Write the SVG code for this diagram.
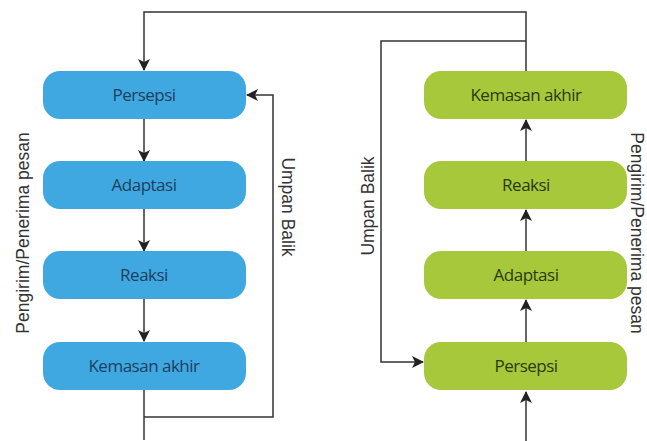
<svg xmlns="http://www.w3.org/2000/svg" width="647" height="441" viewBox="0 0 647 441">
<style>
.blue{fill:#3fa8e0}
.green{fill:#a6c83a}
.bt{font-family:"Open Sans","Noto Sans",sans-serif;font-size:17px;fill:#1d3f5e;text-anchor:middle;letter-spacing:-0.5px}
.gt{font-family:"Open Sans","Noto Sans",sans-serif;font-size:17px;fill:#2c3a12;text-anchor:middle;letter-spacing:-0.5px}
.lbl{font-family:"Liberation Sans",Arial,sans-serif;font-size:17.5px;fill:#333;text-anchor:middle}
.ln{fill:none;stroke:#333;stroke-width:1.5}
</style>
<defs>
<marker id="ah" viewBox="0 0 12 12" refX="11" refY="6" markerWidth="12" markerHeight="12" markerUnits="userSpaceOnUse" orient="auto">
<path d="M0,0 L12,6 L0,12 L3,6 Z" fill="#222"/>
</marker>
</defs>
<rect width="647" height="441" fill="#fff"/>
<g id="connectors">
<path class="ln" d="M144,440 V390"/>
<path class="ln" d="M144,417 H273 V95 H247" marker-end="url(#ah)"/>
<path class="ln" d="M526,72 V12 H144 V70" marker-end="url(#ah)"/>
<path class="ln" d="M526,41 H381 V362 H423" marker-end="url(#ah)"/>
<path class="ln" d="M144,119 V161" marker-end="url(#ah)"/>
<path class="ln" d="M144,209 V251" marker-end="url(#ah)"/>
<path class="ln" d="M144,299 V341" marker-end="url(#ah)"/>
<path class="ln" d="M526,441 V392" marker-end="url(#ah)"/>
<path class="ln" d="M526,343 V300" marker-end="url(#ah)"/>
<path class="ln" d="M526,252 V210" marker-end="url(#ah)"/>
<path class="ln" d="M526,162 V120" marker-end="url(#ah)"/>
</g>
<g id="l-persepsi"><rect class="blue" x="43" y="71" width="203" height="48" rx="17"/><text class="bt" x="144" y="101">Persepsi</text></g>
<g id="l-adaptasi"><rect class="blue" x="43" y="161" width="203" height="48" rx="17"/><text class="bt" x="144" y="191">Adaptasi</text></g>
<g id="l-reaksi"><rect class="blue" x="43" y="251" width="203" height="48" rx="17"/><text class="bt" x="144" y="281">Reaksi</text></g>
<g id="l-kemasan"><rect class="blue" x="43" y="342" width="203" height="48" rx="17"/><text class="bt" x="144" y="372">Kemasan akhir</text></g>
<g id="r-kemasan"><rect class="green" x="424" y="71" width="203" height="48" rx="17"/><text class="gt" x="526" y="101">Kemasan akhir</text></g>
<g id="r-reaksi"><rect class="green" x="424" y="161" width="203" height="48" rx="17"/><text class="gt" x="526" y="191">Reaksi</text></g>
<g id="r-adaptasi"><rect class="green" x="424" y="251" width="203" height="48" rx="17"/><text class="gt" x="526" y="281">Adaptasi</text></g>
<g id="r-persepsi"><rect class="green" x="424" y="342" width="203" height="48" rx="17"/><text class="gt" x="526" y="372">Persepsi</text></g>
<g id="labels">
<text class="lbl" transform="translate(29,233) rotate(-90)">Pengirim/Penerima pesan</text>
<text class="lbl" transform="translate(631,233) rotate(90)">Pengirim/Penerima pesan</text>
<text class="lbl" transform="translate(282,207) rotate(90)">Umpan Balik</text>
<text class="lbl" transform="translate(374,206) rotate(-90)">Umpan Balik</text>
</g>
</svg>
